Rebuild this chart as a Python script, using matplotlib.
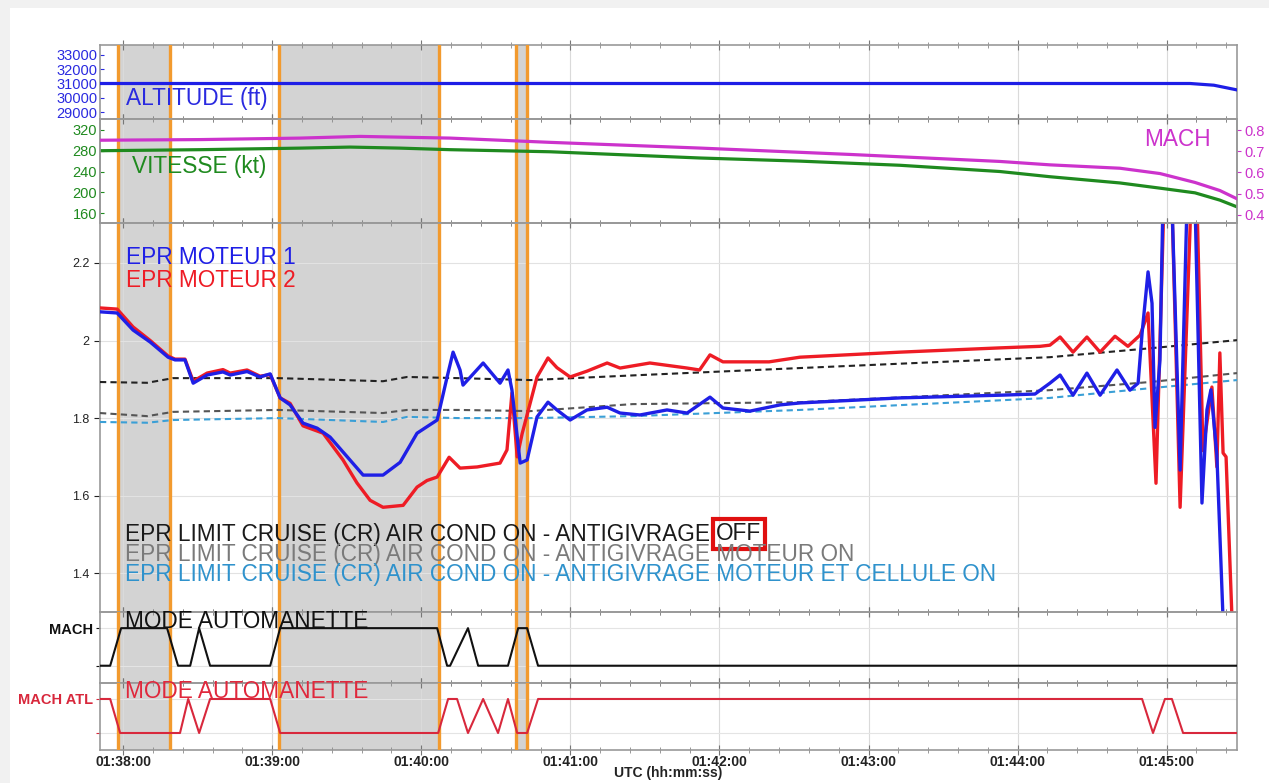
import matplotlib.pyplot as plt
from matplotlib.patches import Rectangle
from matplotlib.ticker import MultipleLocator, FixedLocator

plt.rcParams['font.family'] = ['Liberation Sans', 'DejaVu Sans']

# Time axis: seconds after 01:38:00 UTC
x_ticks = [0, 60, 120, 180, 240, 300, 360, 420]
x_labels = ['01:38:00', '01:39:00', '01:40:00', '01:41:00',
            '01:42:00', '01:43:00', '01:44:00', '01:45:00']
t_start, t_end = -9.3, 448.3

# Orange event markers and grey windows (s)
events = [-2.0, 18.9, 62.8, 127.2, 158.1, 162.6]
windows = [(-2.0, 18.9), (62.8, 127.2), (158.1, 162.6)]

# Altitude (ft)
alt_t = [-9.3, 429.4, 439.0, 448.3]
alt_ft = [31000, 31000, 30880, 30550]

# Speed (kt)
spd_t = [-9.3, 31.0, 71.2, 91.3, 111.5, 131.6, 151.7, 171.8, 192.0, 232.2,
         272.4, 312.7, 352.9, 373.0, 401.2, 417.3, 431.4, 441.4, 448.3]
spd_kt = [280, 282, 285, 287, 285, 282, 280, 278, 274, 266,
          260, 252, 240, 230, 218, 208, 199, 185, 172]

# Mach
mach_t = [-9.3, 31.0, 71.2, 95.4, 131.6, 171.8, 232.2, 292.6, 352.9, 373.0,
          401.2, 417.3, 431.4, 441.4, 448.3]
mach = [0.752, 0.755, 0.762, 0.770, 0.762, 0.742, 0.715, 0.685, 0.652, 0.636,
        0.620, 0.595, 0.553, 0.515, 0.476]

# EPR engine 1
epr1_t = [-9.3, -2.4, 4.0, 10.9, 18.1, 20.9, 24.9, 28.2, 33.8, 40.2, 43.1, 49.9,
          55.1, 59.2, 63.2, 67.2, 72.4, 78.1, 83.3, 91.3, 96.6, 104.6, 111.5,
          118.3, 126.4, 130.4, 132.8, 135.6, 136.8, 144.9, 151.7, 154.9, 156.5,
          159.8, 162.6, 166.6, 171.0, 174.6, 179.9, 186.7, 194.8, 200.0, 208.0,
          218.9, 227.0, 236.2, 241.4, 252.3, 264.4, 272.4, 312.7, 352.9, 367.0,
          373.0, 377.1, 382.3, 387.9, 393.2, 400.0, 405.2, 408.5, 410.1, 412.5,
          414.1, 415.3, 417.3, 418.5, 422.1, 425.4, 428.2, 431.4, 434.2, 436.2,
          437.8, 440.2, 442.7]
epr1 = [2.074, 2.071, 2.027, 1.996, 1.957, 1.950, 1.950, 1.890, 1.911, 1.919, 1.911, 1.920,
        1.906, 1.914, 1.852, 1.834, 1.787, 1.774, 1.751, 1.692, 1.653, 1.653, 1.686,
        1.761, 1.795, 1.906, 1.970, 1.924, 1.885, 1.942, 1.890, 1.924, 1.872,
        1.684, 1.692, 1.803, 1.841, 1.821, 1.795, 1.821, 1.828, 1.813, 1.808,
        1.821, 1.813, 1.854, 1.826, 1.818, 1.834, 1.839, 1.852, 1.859, 1.862,
        1.890, 1.911, 1.859, 1.916, 1.859, 1.924, 1.872, 1.890, 2.019, 2.177,
        2.096, 1.776, 1.950, 2.360, 2.360, 1.666, 2.360, 2.360, 1.581, 1.821,
        1.873, 1.705, 1.280]

# EPR engine 2
epr2_t = [-9.3, -2.4, 4.0, 10.9, 18.1, 20.9, 24.9, 28.2, 33.8, 40.2, 43.1, 49.9,
          55.1, 59.2, 63.2, 67.2, 72.4, 80.5, 88.5, 94.1, 99.4, 104.6, 112.7,
          118.3, 122.3, 126.4, 131.2, 135.6, 142.5, 151.7, 154.5, 156.5, 158.6,
          160.6, 166.6, 171.0, 174.6, 179.9, 186.7, 194.8, 200.0, 212.0, 227.0,
          232.0, 236.2, 241.4, 260.0, 272.4, 312.7, 352.9, 369.0, 373.0, 377.1,
          382.3, 387.9, 393.2, 399.2, 404.4, 409.3, 412.5, 415.7, 418.9, 422.1,
          425.4, 429.8, 432.2, 434.6, 438.2, 440.2, 441.4, 442.7, 443.9, 446.3]
epr2 = [2.084, 2.081, 2.035, 2.000, 1.960, 1.952, 1.952, 1.895, 1.916, 1.925, 1.916, 1.924,
        1.908, 1.912, 1.852, 1.838, 1.780, 1.761, 1.692, 1.633, 1.588, 1.570, 1.575,
        1.622, 1.639, 1.648, 1.699, 1.671, 1.674, 1.684, 1.718, 1.865, 1.700,
        1.760, 1.906, 1.955, 1.930, 1.906, 1.921, 1.942, 1.929, 1.942, 1.929,
        1.924, 1.963, 1.945, 1.945, 1.957, 1.970, 1.981, 1.985, 1.988, 2.009,
        1.970, 2.009, 1.970, 2.011, 1.985, 2.014, 2.071, 1.632, 2.360, 2.360,
        1.570, 2.360, 2.360, 1.716, 1.880, 1.674, 1.968, 1.710, 1.700, 1.280]

# EPR limit cruise reference curves
lim_t = [-9.3, 9.7, 20.1, 62.4, 104.6, 114.3, 135.0, 164.0, 205.0, 272.4, 373.0, 413.3, 448.3]
lim_off = [1.893, 1.891, 1.903, 1.903, 1.895, 1.906, 1.903, 1.898, 1.910, 1.929, 1.957, 1.980, 2.001]
lim_eng = [1.813, 1.805, 1.816, 1.821, 1.813, 1.821, 1.821, 1.818, 1.836, 1.841, 1.872, 1.893, 1.916]
lim_all = [1.790, 1.788, 1.795, 1.800, 1.790, 1.803, 1.800, 1.800, 1.805, 1.821, 1.852, 1.877, 1.898]

# Autothrottle modes (1 = active, 0 = not)
mode1_t = [-9.3, -5.2, -0.8, 17.7, 22.1, 27.0, 30.6, 35.0, 59.2, 63.2, 126.4, 130.4,
           131.6, 138.8, 142.9, 154.9, 159.0, 162.6, 167.0, 448.3]
mode1 = [0, 0, 1, 1, 0, 0, 1, 0, 0, 1, 1, 0, 0, 1, 0, 0, 1, 1, 0, 0]
mode2_t = [-9.3, -5.2, -1.2, 22.9, 26.2, 30.6, 35.0, 59.2, 63.2, 126.8, 130.8, 134.4,
           138.8, 144.9, 150.9, 154.9, 158.6, 162.6, 167.0, 410.1, 414.5, 419.3,
           422.1, 426.6, 448.3]
mode2 = [1, 1, 0, 0, 1, 0, 1, 1, 0, 0, 1, 1, 0, 1, 0, 1, 0, 0, 1, 1, 0, 1, 1, 0, 0]

W, H = 1269, 783
fig = plt.figure(figsize=(W / 100, H / 100), dpi=100)
fig.patch.set_facecolor('#f1f1f1')
fig.patches.append(Rectangle((10 / W, 0), 1, 1 - 8 / H, transform=fig.transFigure,
                             facecolor='white', edgecolor='none', zorder=-10))


def box(x0, y0, x1, y1):
    return [x0 / W, 1 - y1 / H, (x1 - x0) / W, (y1 - y0) / H]


def fig_xy(x, y):
    return x / W, 1 - y / H


ax_alt = fig.add_axes(box(100, 45, 1237, 119))
ax_spd = fig.add_axes(box(100, 119, 1237, 223), sharex=ax_alt)
ax_epr = fig.add_axes(box(100, 223, 1237, 612), sharex=ax_alt)
ax_m1 = fig.add_axes(box(100, 612, 1237, 683), sharex=ax_alt)
ax_m2 = fig.add_axes(box(100, 683, 1237, 750), sharex=ax_alt)
axes = [ax_alt, ax_spd, ax_epr, ax_m1, ax_m2]

orange = '#f29a2e'
frame = '#999999'
for ax in axes:
    for a, b in windows:
        ax.axvspan(a, b, color='#d3d3d3', lw=0, zorder=0)
    for e in events:
        ax.axvline(e, color=orange, lw=2.4, zorder=3)
    ax.grid(axis='x', which='major', color='#dadada', lw=0.8, zorder=1)
    ax.xaxis.set_major_locator(FixedLocator(x_ticks))
    ax.xaxis.set_minor_locator(MultipleLocator(12))
    ax.tick_params(axis='x', which='major', direction='inout', top=True, bottom=True,
                   length=7, color='#777777', labelbottom=False)
    ax.tick_params(axis='x', which='minor', direction='inout', top=True, bottom=True,
                   length=4, color='#888888')
    for sp in ax.spines.values():
        sp.set_color(frame)
        sp.set_linewidth(1.2)
    ax.set_facecolor('none')

ax_alt.set_xlim(t_start, t_end)

# Altitude
ax_alt.plot(alt_t, alt_ft, color='#1e1ee6', lw=2.3, zorder=4)
ax_alt.set_ylim(28510, 33700)
ax_alt.set_yticks([29000, 30000, 31000, 32000, 33000])
ax_alt.tick_params(axis='y', colors='#2a2ae0', labelsize=10.5, length=3, pad=2, direction='in')

# Speed and Mach
ax_spd.plot(spd_t, spd_kt, color='#1f8a1f', lw=2.3, zorder=4)
ax_spd.set_ylim(141, 341)
ax_spd.set_yticks([160, 200, 240, 280, 320])
ax_spd.tick_params(axis='y', colors='#1f8a1f', labelsize=10.5, length=3, pad=2, direction='in')
ax_mach = ax_spd.twinx()
ax_mach.plot(mach_t, mach, color='#cc33cc', lw=2.3, zorder=4)
ax_mach.set_ylim(0.362, 0.852)
ax_mach.set_yticks([0.4, 0.5, 0.6, 0.7, 0.8])
ax_mach.tick_params(axis='y', colors='#cc33cc', labelsize=10.5, length=3, pad=2)
for sp in ax_mach.spines.values():
    sp.set_color(frame)
    sp.set_linewidth(1.2)

# EPR
ax_epr.plot(lim_t, lim_all, color='#3a9fd6', lw=1.5, ls=(0, (3, 2)), zorder=4)
ax_epr.plot(lim_t, lim_eng, color='#555555', lw=1.5, ls=(0, (3, 2)), zorder=4)
ax_epr.plot(lim_t, lim_off, color='#222222', lw=1.5, ls=(0, (3, 2)), zorder=4)
ax_epr.plot(epr2_t, epr2, color='#ee1c25', lw=2.4, zorder=5)
ax_epr.plot(epr1_t, epr1, color='#1f1fe6', lw=2.4, zorder=6)
ax_epr.set_ylim(1.30, 2.303)
ax_epr.set_yticks([1.4, 1.6, 1.8, 2.0, 2.2])
ax_epr.set_yticklabels(['1.4', '1.6', '1.8', '2', '2.2'])
ax_epr.grid(axis='y', color='#e2e2e2', lw=0.8, zorder=1)
ax_epr.tick_params(axis='y', colors='#222222', labelsize=9, length=4)

# Autothrottle modes
ax_m1.plot(mode1_t, mode1, color='#111111', lw=1.5, zorder=4)
ax_m1.set_ylim(-0.46, 1.43)
ax_m1.set_yticks([0, 1])
ax_m1.set_yticklabels(['', 'MACH'])
ax_m1.tick_params(axis='y', colors='#111111', labelsize=10.5, length=3, pad=2)
ax_m1.grid(axis='y', color='#e4e4e4', lw=0.8, zorder=1)

ax_m2.plot(mode2_t, mode2, color='#d8283c', lw=1.5, zorder=4)
ax_m2.set_ylim(-0.5, 1.47)
ax_m2.set_yticks([0, 1])
ax_m2.set_yticklabels(['', 'MACH ATL'])
ax_m2.tick_params(axis='y', colors='#d8283c', labelsize=10.5, length=3, pad=2)
ax_m2.grid(axis='y', color='#e4e4e4', lw=0.8, zorder=1)
for lab in ax_m1.get_yticklabels() + ax_m2.get_yticklabels():
    lab.set_fontweight('bold')

ax_m2.set_xticklabels(x_labels)
ax_m2.tick_params(axis='x', which='major', labelbottom=True, labelsize=10,
                  labelcolor='#222222', pad=0)
for lab in ax_m2.get_xticklabels():
    lab.set_fontweight('bold')
ax_m2.set_xlabel('UTC (hh:mm:ss)', fontsize=10, fontweight='bold', color='#222222', labelpad=-2)

# Labels written inside the panels
fs = 16.3
fig.text(*fig_xy(126, 98), 'ALTITUDE (ft)', color='#2a2ae0', fontsize=fs, va='center')
fig.text(*fig_xy(132, 167), 'VITESSE (kt)', color='#1f8a1f', fontsize=fs, va='center')
fig.text(*fig_xy(1144, 140), 'MACH', color='#cc33cc', fontsize=fs, va='center')
fig.text(*fig_xy(126, 257), 'EPR MOTEUR 1', color='#1f1fe6', fontsize=fs, va='center', zorder=10)
fig.text(*fig_xy(126, 280), 'EPR MOTEUR 2', color='#ee1c25', fontsize=fs, va='center', zorder=10)
t_off = fig.text(*fig_xy(125, 534), 'EPR LIMIT CRUISE (CR) AIR COND ON - ANTIGIVRAGE ',
                 color='#1a1a1a', fontsize=fs, va='center')
fig.text(*fig_xy(125, 554), 'EPR LIMIT CRUISE (CR) AIR COND ON - ANTIGIVRAGE MOTEUR ON',
         color='#7a7a7a', fontsize=fs, va='center')
fig.text(*fig_xy(125, 574), 'EPR LIMIT CRUISE (CR) AIR COND ON - ANTIGIVRAGE MOTEUR ET CELLULE ON',
         color='#2f92cc', fontsize=fs, va='center')
fig.text(*fig_xy(125, 622), 'MODE AUTOMANETTE', color='#111111', fontsize=fs, va='center')
fig.text(*fig_xy(125, 692), 'MODE AUTOMANETTE', color='#e0283c', fontsize=fs, va='center')

# "OFF" highlighted with a red box
plt.annotate('OFF', xy=(1, 0.5), xycoords=t_off, va='center', ha='left',
             color='#1a1a1a', fontsize=fs,
             bbox=dict(boxstyle='square,pad=0.15', fc='none', ec='#e01010', lw=3))

plt.savefig('out.png', dpi=100, facecolor=fig.get_facecolor())
